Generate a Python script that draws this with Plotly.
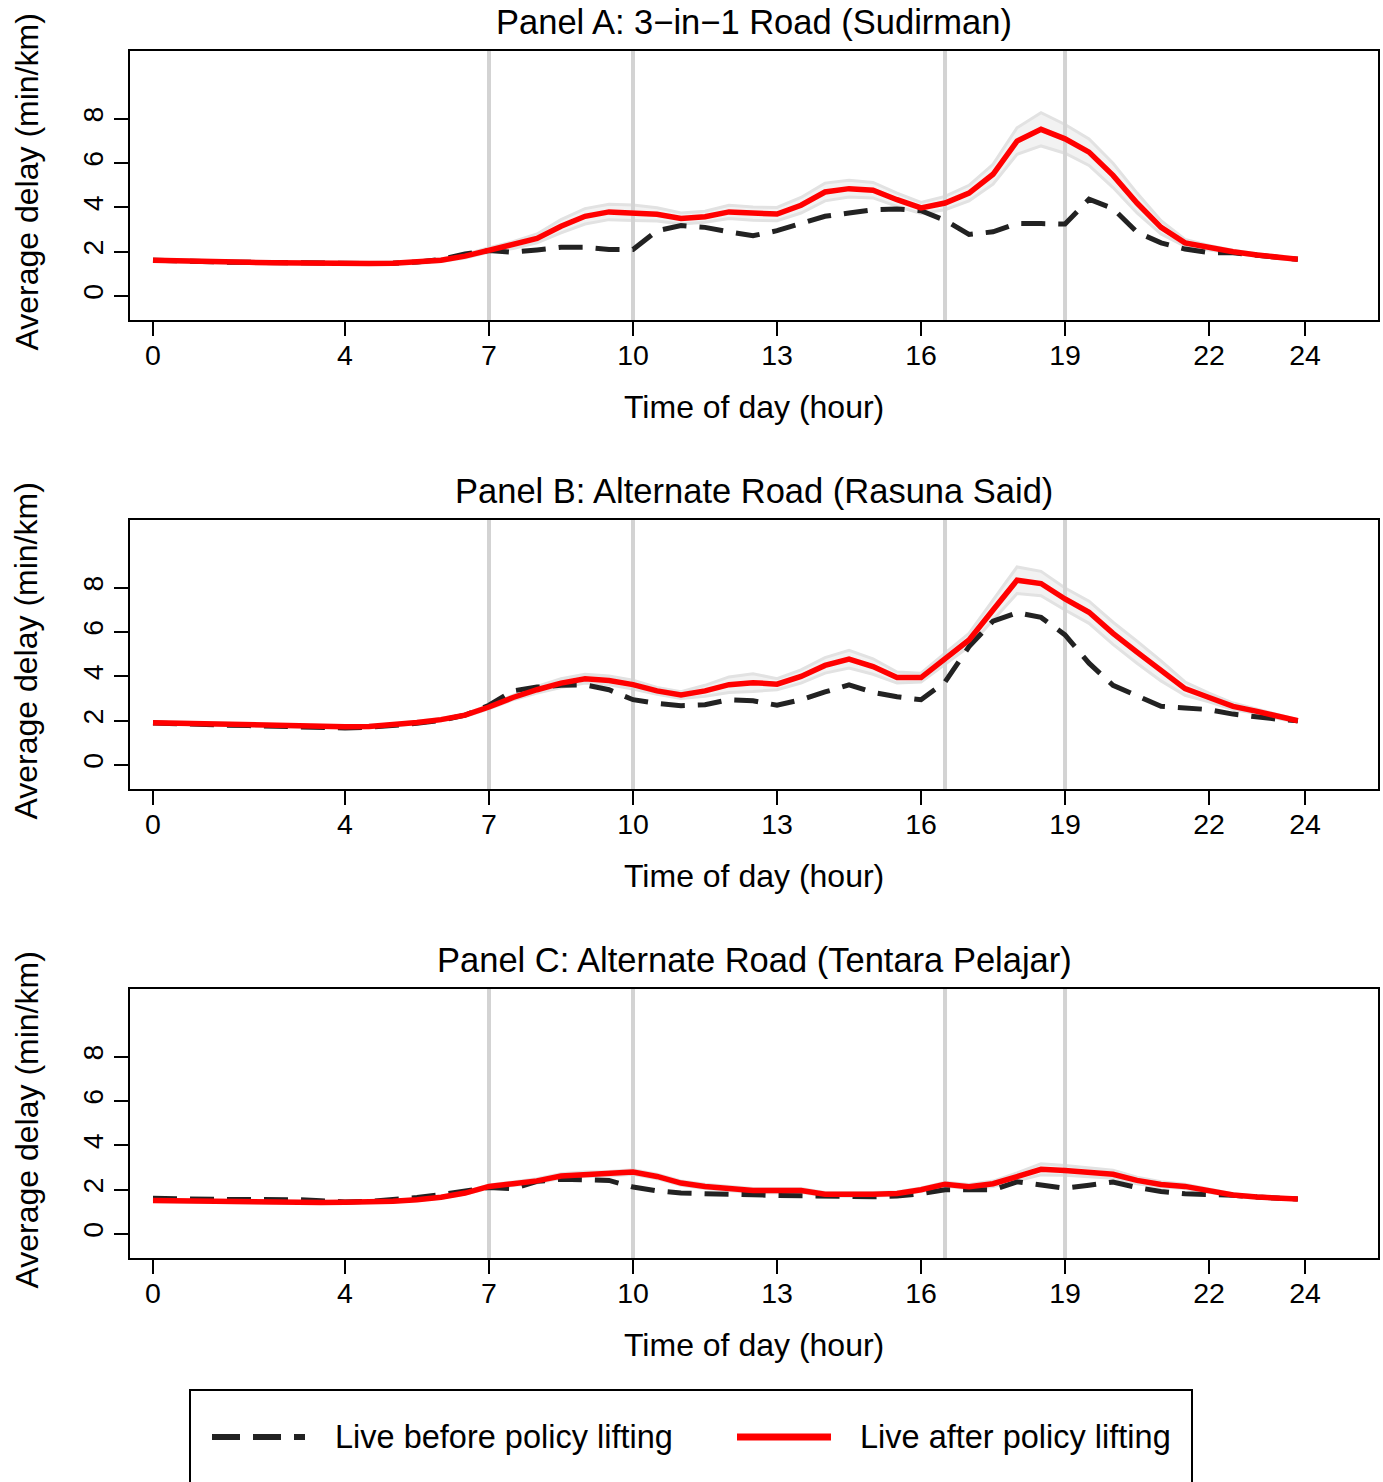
import plotly.graph_objects as go

# ---------------- data ----------------
HOURS = [0, 0.5, 1, 1.5, 2, 2.5, 3, 3.5, 4, 4.5, 5, 5.5, 6, 6.5, 7, 7.5, 8, 8.5, 9, 9.5,
         10, 10.5, 11, 11.5, 12, 12.5, 13, 13.5, 14, 14.5, 15, 15.5, 16, 16.5, 17, 17.5,
         18, 18.5, 19, 19.5, 20, 20.5, 21, 21.5, 22, 22.5, 23, 23.5, 23.85]

X_TICKS = [0, 4, 7, 10, 13, 16, 19, 22, 24]
Y_TICKS = [0, 2, 4, 6, 8]
VLINES = [7, 10, 16.5, 19]

PANEL_TITLES = ["Panel A: 3\u2212in\u22121 Road (Sudirman)",
                "Panel B: Alternate Road (Rasuna Said)",
                "Panel C: Alternate Road (Tentara Pelajar)"]
X_TITLE = "Time of day (hour)"
Y_TITLE = "Average delay (min/km)"
LEGEND_LABELS = ["Live before policy lifting", "Live after policy lifting"]

A_BEFORE = [1.62, 1.58, 1.55, 1.53, 1.52, 1.50, 1.48, 1.47, 1.47, 1.47, 1.48, 1.53, 1.65, 1.90,
            2.05, 1.98, 2.08, 2.20, 2.20, 2.10, 2.10, 2.95, 3.18, 3.10, 2.90, 2.72, 2.95, 3.30,
            3.60, 3.75, 3.90, 3.93, 3.85, 3.42, 2.78, 2.90, 3.28, 3.27, 3.25, 4.37, 3.95, 2.88,
            2.40, 2.12, 1.96, 1.95, 1.85, 1.72, 1.66]
A_AFTER = [1.62, 1.58, 1.55, 1.53, 1.52, 1.50, 1.48, 1.47, 1.47, 1.47, 1.48, 1.52, 1.62, 1.80,
           2.08, 2.30, 2.60, 3.15, 3.60, 3.80, 3.76, 3.69, 3.50, 3.58, 3.80, 3.72, 3.70, 4.10,
           4.70, 4.85, 4.78, 4.35, 3.98, 4.20, 4.65, 5.50, 7.00, 7.53, 7.10, 6.50, 5.45, 4.20,
           3.10, 2.40, 2.18, 2.00, 1.85, 1.72, 1.66]
A_CI = [0.05, 0.05, 0.05, 0.05, 0.05, 0.05, 0.05, 0.05, 0.05, 0.05, 0.05, 0.05, 0.06, 0.08,
        0.10, 0.15, 0.20, 0.30, 0.35, 0.35, 0.35, 0.30, 0.25, 0.25, 0.30, 0.30, 0.30, 0.35,
        0.40, 0.38, 0.35, 0.30, 0.25, 0.30, 0.35, 0.45, 0.60, 0.75, 0.65, 0.60, 0.55, 0.45,
        0.30, 0.15, 0.10, 0.07, 0.06, 0.05, 0.05]

B_BEFORE = [1.90, 1.85, 1.82, 1.80, 1.78, 1.75, 1.72, 1.70, 1.67, 1.70, 1.78, 1.88, 2.02, 2.25,
            2.70, 3.35, 3.52, 3.60, 3.62, 3.40, 2.95, 2.78, 2.68, 2.72, 2.95, 2.90, 2.70, 2.95,
            3.30, 3.62, 3.28, 3.08, 2.95, 3.75, 5.35, 6.50, 6.88, 6.67, 5.88, 4.60, 3.60, 3.10,
            2.65, 2.58, 2.50, 2.30, 2.15, 2.05, 2.00]
B_AFTER = [1.91, 1.88, 1.85, 1.83, 1.81, 1.78, 1.74, 1.73, 1.73, 1.74, 1.80, 1.92, 2.05, 2.25,
           2.62, 3.05, 3.40, 3.70, 3.90, 3.82, 3.63, 3.35, 3.16, 3.35, 3.63, 3.72, 3.65, 4.00,
           4.50, 4.78, 4.45, 3.95, 3.95, 4.80, 5.65, 7.00, 8.35, 8.20, 7.50, 6.90, 5.95, 5.10,
           4.25, 3.45, 3.05, 2.65, 2.42, 2.15, 2.00]
B_CI = [0.05, 0.05, 0.05, 0.05, 0.05, 0.05, 0.05, 0.05, 0.05, 0.05, 0.05, 0.05, 0.05, 0.06,
        0.08, 0.10, 0.15, 0.20, 0.20, 0.20, 0.20, 0.15, 0.15, 0.25, 0.35, 0.40, 0.25, 0.30,
        0.35, 0.40, 0.35, 0.25, 0.20, 0.25, 0.30, 0.45, 0.60, 0.55, 0.50, 0.50, 0.50, 0.50,
        0.45, 0.30, 0.20, 0.15, 0.10, 0.08, 0.05]

C_BEFORE = [1.61, 1.58, 1.57, 1.56, 1.56, 1.56, 1.55, 1.50, 1.45, 1.47, 1.55, 1.65, 1.78, 1.92,
            2.10, 2.05, 2.38, 2.47, 2.47, 2.42, 2.12, 1.95, 1.85, 1.84, 1.83, 1.77, 1.74, 1.72,
            1.68, 1.66, 1.68, 1.72, 1.82, 2.00, 1.98, 2.00, 2.36, 2.20, 2.07, 2.20, 2.35, 2.10,
            1.92, 1.82, 1.80, 1.75, 1.67, 1.62, 1.58]
C_AFTER = [1.51, 1.49, 1.47, 1.45, 1.44, 1.43, 1.42, 1.42, 1.43, 1.44, 1.48, 1.55, 1.66, 1.85,
           2.15, 2.27, 2.40, 2.62, 2.70, 2.72, 2.80, 2.60, 2.30, 2.15, 2.05, 1.96, 1.96, 1.96,
           1.80, 1.78, 1.80, 1.83, 2.00, 2.25, 2.14, 2.27, 2.58, 2.92, 2.87, 2.80, 2.70, 2.42,
           2.24, 2.15, 1.95, 1.76, 1.67, 1.62, 1.58]
C_CI = [0.04, 0.04, 0.04, 0.04, 0.04, 0.04, 0.04, 0.04, 0.04, 0.04, 0.04, 0.04, 0.04, 0.05,
        0.07, 0.08, 0.10, 0.10, 0.10, 0.10, 0.10, 0.10, 0.10, 0.10, 0.10, 0.10, 0.10, 0.09,
        0.08, 0.08, 0.08, 0.08, 0.08, 0.09, 0.10, 0.12, 0.18, 0.25, 0.22, 0.20, 0.18, 0.15,
        0.12, 0.10, 0.08, 0.06, 0.05, 0.04, 0.04]

PANELS = [(A_BEFORE, A_AFTER, A_CI), (B_BEFORE, B_AFTER, B_CI), (C_BEFORE, C_AFTER, C_CI)]

# ---------------- layout geometry (pixels) ----------------
W, H = 1383, 1482
FONT = "Liberation Sans, Arial, Helvetica, sans-serif"
BOX_L, BOX_R = 130, 1378
BOX_TOPS = [51, 520, 989]
BOX_H = 269
X_RANGE = [-0.479, 25.52]
Y_RANGE = [-1.085, 11.07]


def px(x):
    return x / W


def py(y):
    return 1 - y / H


DASH = "24px,13px"
RED = "#ff0000"
BLACK = "#222222"

fig = go.Figure()
layout = dict(
    width=W, height=H,
    margin=dict(l=0, r=0, t=0, b=0, pad=0),
    paper_bgcolor="white", plot_bgcolor="white",
    showlegend=False,
    font=dict(family=FONT, color="black", size=28),
)

annotations = []
shapes = []

for i, (before, after, ci) in enumerate(PANELS):
    n = "" if i == 0 else str(i + 1)
    xa, ya = "x" + n, "y" + n
    lower = [a - c for a, c in zip(after, ci)]
    upper = [a + c for a, c in zip(after, ci)]
    # confidence band
    fig.add_trace(go.Scatter(x=HOURS, y=lower, xaxis=xa, yaxis=ya, mode="lines",
                             line=dict(color="#e2e2e2", width=3), hoverinfo="skip"))
    fig.add_trace(go.Scatter(x=HOURS, y=upper, xaxis=xa, yaxis=ya, mode="lines",
                             fill="tonexty", fillcolor="#f2f2f2",
                             line=dict(color="#e2e2e2", width=3), hoverinfo="skip"))
    # vertical reference lines
    for v in VLINES:
        fig.add_trace(go.Scatter(x=[v, v], y=[Y_RANGE[0] - 5, Y_RANGE[1] + 5], xaxis=xa, yaxis=ya,
                                 mode="lines", line=dict(color="#d3d3d3", width=4),
                                 hoverinfo="skip"))
    fig.add_trace(go.Scatter(x=HOURS, y=before, xaxis=xa, yaxis=ya, mode="lines",
                             name=LEGEND_LABELS[0],
                             line=dict(color=BLACK, width=5, dash=DASH)))
    fig.add_trace(go.Scatter(x=HOURS, y=after, xaxis=xa, yaxis=ya, mode="lines",
                             name=LEGEND_LABELS[1],
                             line=dict(color=RED, width=5.5)))

    top = BOX_TOPS[i]
    bot = top + BOX_H
    layout["xaxis" + n] = dict(
        domain=[px(BOX_L), px(BOX_R)], anchor=ya, range=X_RANGE,
        tickmode="array", tickvals=X_TICKS, ticktext=[str(t) for t in X_TICKS],
        ticks="outside", ticklen=14, tickwidth=2, tickcolor="black",
        ticklabelstandoff=-5,
        showline=True, linecolor="black", linewidth=2, mirror=True,
        showgrid=False, zeroline=False, tickfont=dict(size=28.5, family=FONT),
    )
    layout["yaxis" + n] = dict(
        domain=[py(bot), py(top)], anchor=xa, range=Y_RANGE,
        tickmode="array", tickvals=Y_TICKS, ticktext=[str(t) for t in Y_TICKS],
        ticks="outside", ticklen=14, tickwidth=2, tickcolor="black", tickangle=-90,
        showline=True, linecolor="black", linewidth=2, mirror=True,
        showgrid=False, zeroline=False, tickfont=dict(size=28.5, family=FONT),
    )
    # panel title
    annotations.append(dict(text=PANEL_TITLES[i], x=px((BOX_L + BOX_R) / 2), y=py(top - 29),
                            xref="paper", yref="paper", xanchor="center", yanchor="middle",
                            showarrow=False, font=dict(size=34.5, family=FONT)))
    # x-axis title
    annotations.append(dict(text=X_TITLE, x=px((BOX_L + BOX_R) / 2), y=py(bot + 87),
                            xref="paper", yref="paper", xanchor="center", yanchor="middle",
                            showarrow=False, font=dict(size=32, family=FONT)))
    # y-axis title
    annotations.append(dict(text=Y_TITLE, x=px(26), y=py(top + BOX_H / 2 - 3),
                            xref="paper", yref="paper", xanchor="center", yanchor="middle",
                            textangle=-90, showarrow=False, font=dict(size=32, family=FONT)))

# legend box (drawn by hand to match the reference layout)
LEG_L, LEG_R, LEG_T, LEG_CY = 190, 1192, 1390, 1437
shapes.append(dict(type="rect", xref="paper", yref="paper",
                   x0=px(LEG_L), x1=px(LEG_R), y0=py(LEG_T), y1=py(H + 20),
                   line=dict(color="black", width=2), fillcolor="rgba(0,0,0,0)"))
shapes.append(dict(type="line", xref="paper", yref="paper",
                   x0=px(212), x1=px(305), y0=py(LEG_CY), y1=py(LEG_CY),
                   line=dict(color=BLACK, width=6, dash="28px,13px")))
shapes.append(dict(type="line", xref="paper", yref="paper",
                   x0=px(737), x1=px(831), y0=py(LEG_CY), y1=py(LEG_CY),
                   line=dict(color=RED, width=7)))
annotations.append(dict(text=LEGEND_LABELS[0], x=px(333), y=py(LEG_CY), xref="paper", yref="paper",
                        xanchor="left", yanchor="middle", showarrow=False,
                        font=dict(size=32.5, family=FONT)))
annotations.append(dict(text=LEGEND_LABELS[1], x=px(858), y=py(LEG_CY), xref="paper", yref="paper",
                        xanchor="left", yanchor="middle", showarrow=False,
                        font=dict(size=32.5, family=FONT)))

layout["annotations"] = annotations
layout["shapes"] = shapes
fig.update_layout(**layout)

fig.write_html("out.html", config={"displayModeBar": False},
               post_script="document.body.style.margin='0';")
